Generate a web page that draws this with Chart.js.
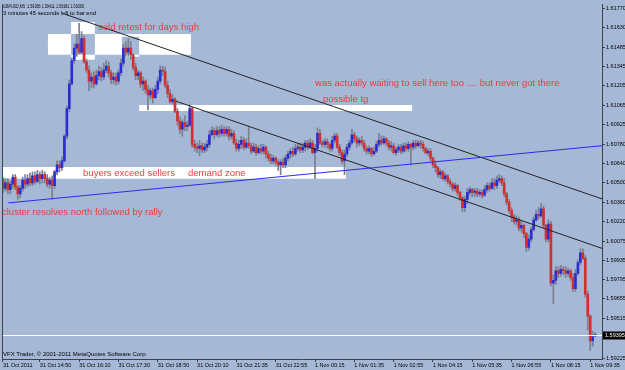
<!DOCTYPE html>
<html lang="en">
<head>
<meta charset="UTF-8">
<title>GBPUSD,M5</title>
<script src="https://cdn.jsdelivr.net/npm/chart.js"></script>
<style>
  html, body { margin: 0; padding: 0; background: #a5b9d6; }
  canvas { display: block; }
</style>
</head>
<body>
<canvas id="chart" width="625" height="370"></canvas>
<script>
// GBPUSD 5 minute bars, 31 Oct 13:35 -> 1 Nov 09:45
const symbol = 'GBPUSD,M5';

const opens = [
  1.6052,1.6046,1.6050,1.6045,1.6049,1.6054,1.6047,1.6042,1.6046,1.6052,
  1.6049,1.6053,1.6050,1.6055,1.6051,1.6056,1.6053,1.6056,1.6053,1.6049,
  1.6052,1.6048,1.6058,1.6063,1.6061,1.6066,1.6084,1.6104,1.6122,1.6139,
  1.6148,1.6151,1.6145,1.6155,1.6138,1.6132,1.6124,1.6127,1.6122,1.6128,
  1.6131,1.6127,1.6132,1.6135,1.6130,1.6125,1.6127,1.6124,1.6130,1.6137,
  1.6148,1.6145,1.6148,1.6143,1.6134,1.6128,1.6130,1.6122,1.6124,1.6118,
  1.6114,1.6117,1.6112,1.6118,1.6124,1.6132,1.6131,1.6121,1.6115,1.6109,
  1.6111,1.6102,1.6095,1.6089,1.6094,1.6091,1.6092,1.6104,1.6078,1.6076,
  1.6075,1.6077,1.6074,1.6076,1.6078,1.6085,1.6088,1.6085,1.6088,1.6086,
  1.6089,1.6086,1.6089,1.6084,1.6086,1.6079,1.6075,1.6078,1.6081,1.6076,
  1.6079,1.6077,1.6073,1.6076,1.6072,1.6075,1.6073,1.6076,1.6071,1.6068,
  1.6066,1.6068,1.6065,1.6063,1.6065,1.6063,1.6068,1.6071,1.6073,1.6071,
  1.6075,1.6076,1.6074,1.6076,1.6079,1.6076,1.6079,1.6072,1.6075,1.6086,
  1.6079,1.6078,1.6080,1.6078,1.6075,1.6081,1.6084,1.6076,1.6072,1.6066,
  1.6071,1.6076,1.6079,1.6085,1.6082,1.6079,1.6081,1.6079,1.6075,1.6073,
  1.6075,1.6071,1.6073,1.6078,1.6081,1.6079,1.6082,1.6079,1.6076,1.6077,
  1.6072,1.6074,1.6076,1.6073,1.6077,1.6075,1.6078,1.6076,1.6079,1.6077,
  1.6079,1.6078,1.6075,1.6072,1.6073,1.6068,1.6063,1.6061,1.6056,1.6058,
  1.6053,1.6055,1.6051,1.6049,1.6046,1.6048,1.6043,1.6039,1.6032,1.6038,
  1.6043,1.6045,1.6043,1.6044,1.6042,1.6043,1.6041,1.6045,1.6048,1.6046,
  1.6050,1.6048,1.6052,1.6053,1.6050,1.6042,1.6036,1.6030,1.6025,1.6022,
  1.6023,1.6017,1.6019,1.6013,1.6003,1.6009,1.6016,1.6023,1.6027,1.6026,
  1.6031,1.6019,1.6009,1.6020,1.5977,1.5979,1.5986,1.5984,1.5987,1.5986,
  1.5984,1.5986,1.5981,1.5973,1.5984,1.5992,1.5999,1.5995,1.5969,1.5953,
  1.5935,1.59386
];
const highs = [
  1.6054,1.6053,1.6053,1.6051,1.6056,1.6056,1.6048,1.6048,1.6054,1.6056,
  1.6056,1.6057,1.6058,1.6058,1.6059,1.6058,1.6059,1.6058,1.6056,1.6054,
  1.6055,1.6059,1.6066,1.6066,1.6069,1.6085,1.6106,1.6125,1.6141,1.6151,
  1.6158,1.6166,1.6160,1.6157,1.6140,1.6135,1.6130,1.6131,1.6132,1.6135,
  1.6134,1.6137,1.6139,1.6138,1.6132,1.6130,1.6130,1.6132,1.6140,1.6151,
  1.6153,1.6155,1.6153,1.6144,1.6137,1.6132,1.6131,1.6127,1.6125,1.6121,
  1.6119,1.6119,1.6121,1.6127,1.6135,1.6135,1.6134,1.6124,1.6118,1.6114,
  1.6112,1.6104,1.6098,1.6096,1.6099,1.6095,1.6107,1.6105,1.6081,1.6079,
  1.6081,1.6079,1.6079,1.6081,1.6088,1.6091,1.6090,1.6091,1.6091,1.6092,
  1.6091,1.6091,1.6091,1.6089,1.6088,1.6082,1.6081,1.6084,1.6083,1.6082,
  1.6091,1.6079,1.6079,1.6078,1.6077,1.6078,1.6078,1.6077,1.6073,1.6071,
  1.6070,1.6069,1.6067,1.6067,1.6068,1.6070,1.6073,1.6075,1.6076,1.6078,
  1.6079,1.6079,1.6079,1.6081,1.6081,1.6082,1.6081,1.6078,1.6090,1.6089,
  1.6081,1.6082,1.6082,1.6079,1.6084,1.6086,1.6086,1.6078,1.6074,1.6074,
  1.6078,1.6081,1.6089,1.6087,1.6084,1.6083,1.6084,1.6081,1.6077,1.6077,
  1.6076,1.6076,1.6080,1.6086,1.6084,1.6084,1.6083,1.6081,1.6080,1.6079,
  1.6076,1.6078,1.6078,1.6079,1.6079,1.6080,1.6079,1.6081,1.6081,1.6081,
  1.6081,1.6080,1.6076,1.6075,1.6075,1.6069,1.6066,1.6062,1.6060,1.6059,
  1.6057,1.6056,1.6053,1.6050,1.6050,1.6049,1.6044,1.6040,1.6040,1.6046,
  1.6047,1.6046,1.6046,1.6046,1.6045,1.6045,1.6048,1.6050,1.6050,1.6053,
  1.6053,1.6055,1.6056,1.6055,1.6053,1.6043,1.6038,1.6032,1.6027,1.6026,
  1.6025,1.6022,1.6020,1.6014,1.6012,1.6018,1.6025,1.6030,1.6032,1.6035,
  1.6033,1.6020,1.6023,1.6022,1.5983,1.5989,1.5989,1.5990,1.5989,1.5989,
  1.5988,1.5987,1.5984,1.5987,1.5994,1.6002,1.6002,1.5997,1.5971,1.5954,
  1.5942,1.59411
];
const lows = [
  1.6043,1.6044,1.6042,1.6042,1.6046,1.6045,1.6038,1.6039,1.6044,1.6046,
  1.6047,1.6048,1.6048,1.6049,1.6050,1.6049,1.6050,1.6050,1.6047,1.6046,
  1.6038,1.6046,1.6056,1.6058,1.6059,1.6065,1.6082,1.6102,1.6121,1.6137,
  1.6142,1.6144,1.6144,1.6137,1.6130,1.6117,1.6119,1.6119,1.6121,1.6125,
  1.6124,1.6125,1.6130,1.6127,1.6122,1.6122,1.6121,1.6122,1.6128,1.6135,
  1.6142,1.6142,1.6140,1.6132,1.6125,1.6125,1.6119,1.6117,1.6115,1.6103,
  1.6111,1.6108,1.6111,1.6115,1.6122,1.6128,1.6119,1.6112,1.6108,1.6107,
  1.6101,1.6092,1.6086,1.6084,1.6088,1.6088,1.6091,1.6076,1.6073,1.6072,
  1.6070,1.6072,1.6072,1.6073,1.6076,1.6084,1.6082,1.6084,1.6083,1.6084,
  1.6084,1.6084,1.6081,1.6082,1.6078,1.6073,1.6073,1.6075,1.6074,1.6075,
  1.6075,1.6071,1.6072,1.6070,1.6071,1.6071,1.6071,1.6068,1.6066,1.6064,
  1.6064,1.6063,1.6059,1.6056,1.6061,1.6061,1.6066,1.6068,1.6069,1.6070,
  1.6073,1.6072,1.6072,1.6073,1.6074,1.6075,1.6071,1.6053,1.6073,1.6078,
  1.6076,1.6076,1.6075,1.6073,1.6073,1.6079,1.6075,1.6070,1.6064,1.6056,
  1.6069,1.6074,1.6078,1.6080,1.6076,1.6077,1.6077,1.6073,1.6071,1.6071,
  1.6069,1.6070,1.6072,1.6076,1.6077,1.6078,1.6077,1.6074,1.6073,1.6071,
  1.6070,1.6072,1.6071,1.6072,1.6073,1.6073,1.6063,1.6074,1.6075,1.6076,
  1.6075,1.6073,1.6071,1.6070,1.6066,1.6061,1.6058,1.6054,1.6053,1.6052,
  1.6051,1.6049,1.6047,1.6044,1.6044,1.6041,1.6037,1.6029,1.6029,1.6035,
  1.6041,1.6040,1.6040,1.6040,1.6040,1.6039,1.6040,1.6043,1.6044,1.6045,
  1.6045,1.6046,1.6050,1.6048,1.6040,1.6034,1.6028,1.6022,1.6020,1.6019,
  1.6015,1.6014,1.6010,1.6000,1.6001,1.6007,1.6015,1.6022,1.6024,1.6025,
  1.6017,1.6007,1.6007,1.5975,1.5962,1.5976,1.5981,1.5982,1.5983,1.5981,
  1.5982,1.5979,1.5971,1.5971,1.5983,1.5990,1.5994,1.5967,1.5943,1.5928,
  1.5931,1.59381
];
const closes = [
  1.6046,1.6050,1.6045,1.6049,1.6054,1.6047,1.6042,1.6046,1.6052,1.6049,
  1.6053,1.6050,1.6055,1.6051,1.6056,1.6053,1.6056,1.6053,1.6049,1.6052,
  1.6048,1.6058,1.6063,1.6061,1.6066,1.6084,1.6104,1.6122,1.6139,1.6148,
  1.6151,1.6145,1.6155,1.6138,1.6132,1.6124,1.6127,1.6122,1.6128,1.6131,
  1.6127,1.6132,1.6135,1.6130,1.6125,1.6127,1.6124,1.6130,1.6137,1.6148,
  1.6145,1.6148,1.6143,1.6134,1.6128,1.6130,1.6122,1.6124,1.6118,1.6114,
  1.6117,1.6112,1.6118,1.6124,1.6132,1.6131,1.6121,1.6115,1.6109,1.6111,
  1.6102,1.6095,1.6089,1.6094,1.6091,1.6092,1.6104,1.6078,1.6076,1.6075,
  1.6077,1.6074,1.6076,1.6078,1.6085,1.6088,1.6085,1.6088,1.6086,1.6089,
  1.6086,1.6089,1.6084,1.6086,1.6079,1.6075,1.6078,1.6081,1.6076,1.6079,
  1.6077,1.6073,1.6076,1.6072,1.6075,1.6073,1.6076,1.6071,1.6068,1.6066,
  1.6068,1.6065,1.6063,1.6065,1.6063,1.6068,1.6071,1.6073,1.6071,1.6075,
  1.6076,1.6074,1.6076,1.6079,1.6076,1.6079,1.6072,1.6075,1.6086,1.6079,
  1.6078,1.6080,1.6078,1.6075,1.6081,1.6084,1.6076,1.6072,1.6066,1.6071,
  1.6076,1.6079,1.6085,1.6082,1.6079,1.6081,1.6079,1.6075,1.6073,1.6075,
  1.6071,1.6073,1.6078,1.6081,1.6079,1.6082,1.6079,1.6076,1.6077,1.6072,
  1.6074,1.6076,1.6073,1.6077,1.6075,1.6078,1.6076,1.6079,1.6077,1.6079,
  1.6078,1.6075,1.6072,1.6073,1.6068,1.6063,1.6061,1.6056,1.6058,1.6053,
  1.6055,1.6051,1.6049,1.6046,1.6048,1.6043,1.6039,1.6032,1.6038,1.6043,
  1.6045,1.6043,1.6044,1.6042,1.6043,1.6041,1.6045,1.6048,1.6046,1.6050,
  1.6048,1.6052,1.6053,1.6050,1.6042,1.6036,1.6030,1.6025,1.6022,1.6023,
  1.6017,1.6019,1.6013,1.6003,1.6009,1.6016,1.6023,1.6027,1.6026,1.6031,
  1.6019,1.6009,1.6020,1.5977,1.5979,1.5986,1.5984,1.5987,1.5986,1.5984,
  1.5986,1.5981,1.5973,1.5984,1.5992,1.5999,1.5995,1.5969,1.5953,1.5935,
  1.5938,1.59395
];

const bidPrice = 1.59395;

// time axis: bar index of each label
const timeTickBars = [0, 15, 31, 47, 63, 79, 95, 111, 127, 143, 159, 175, 191, 207, 223, 239];
const timeTickLabels = ['31 Oct 2011', '31 Oct 14:50', '31 Oct 16:10', '31 Oct 17:30', '31 Oct 18:50',
  '31 Oct 20:10', '31 Oct 21:35', '31 Oct 22:55', '1 Nov 00:15', '1 Nov 01:35', '1 Nov 02:55',
  '1 Nov 04:15', '1 Nov 05:35', '1 Nov 06:55', '1 Nov 08:15', '1 Nov 09:35'];
const priceTicks = [1.61770, 1.61630, 1.61485, 1.61345, 1.61205, 1.61065, 1.60925, 1.60780, 1.60640,
  1.60500, 1.60360, 1.60220, 1.60075, 1.59935, 1.59795, 1.59655, 1.59515, 1.59225];

// drawn objects, in bar index / price
const zones = [
  { from: 18.3, to: 76.5, top: 1.61583, bottom: 1.61432 },
  { from: 27.7, to: 37.4, top: 1.61670, bottom: 1.61396 },
  { from: 48.4, to: 55.4, top: 1.61562, bottom: 1.61418 },
  { from: 55.4, to: 166.5, top: 1.61066, bottom: 1.61022 },
  { from: -0.4, to: 139.6, top: 1.60616, bottom: 1.60530 }
];
const trendLines = [
  { from: [25.2, 1.61727], to: [243.8, 1.60383], color: '#222222' },
  { from: [70.4, 1.61094], to: [243.8, 1.60023], color: '#222222' },
  { from: [2.2, 1.60354], to: [243.8, 1.60770], color: '#2b2bf0' }
];
const notes = [
  { text: 'sold retest for days high', bar: 38.7, price: 1.61634 },
  { text: 'was actually waiting to sell here too .... but never got there', bar: 127.0, price: 1.61224 },
  { text: 'possible tg', bar: 130.2, price: 1.61109 },
  { text: 'buyers exceed sellers', bar: 32.6, price: 1.60570 },
  { text: 'demand zone', bar: 75.3, price: 1.60570 },
  { text: 'cluster resolves north followed by rally', bar: -0.4, price: 1.60282 }
];

const bullColor = '#2c2cd4';
const bearColor = '#d42e2e';
const wickColor = '#7c7f8e';
const noteColor = '#e83c3c';
const font = '"Liberation Sans", Arial, sans-serif';

const bodies = opens.map((o, i) => ({ x: i, y: [o, closes[i]] }));
const wicks = highs.map((h, i) => ({ x: i, y: [lows[i], h] }));
const bodyColors = opens.map((o, i) => closes[i] >= o ? bullColor : bearColor);

const overlay = {
    id: 'overlay',
    beforeDatasetsDraw(chart) {
        const { ctx, chartArea: a, scales: { x, y } } = chart;
        ctx.save();
        ctx.beginPath();
        ctx.rect(a.left, a.top, a.right - a.left, a.bottom - a.top);
        ctx.clip();
        // overlapping rectangles cancel out, like in the terminal
        ctx.beginPath();
        zones.forEach(z => {
            const x1 = x.getPixelForValue(z.from), x2 = x.getPixelForValue(z.to);
            const y1 = y.getPixelForValue(z.top), y2 = y.getPixelForValue(z.bottom);
            ctx.rect(x1, y1, x2 - x1, y2 - y1);
        });
        ctx.fillStyle = '#ffffff';
        ctx.fill('evenodd');
        ctx.restore();
    },
    afterDatasetsDraw(chart) {
        const { ctx, chartArea: a, scales: { x, y } } = chart;
        ctx.save();
        ctx.beginPath();
        ctx.rect(a.left, a.top, a.right - a.left, a.bottom - a.top);
        ctx.clip();

        // bid line
        const by = Math.round(y.getPixelForValue(bidPrice)) + 0.5;
        ctx.strokeStyle = '#ffffff';
        ctx.lineWidth = 1;
        ctx.beginPath();
        ctx.moveTo(a.left, by);
        ctx.lineTo(a.right, by);
        ctx.stroke();

        // trend lines
        trendLines.forEach(l => {
            ctx.strokeStyle = l.color;
            ctx.beginPath();
            ctx.moveTo(x.getPixelForValue(l.from[0]), y.getPixelForValue(l.from[1]));
            ctx.lineTo(x.getPixelForValue(l.to[0]), y.getPixelForValue(l.to[1]));
            ctx.stroke();
        });

        // notes
        ctx.fillStyle = noteColor;
        ctx.font = '9.5px ' + font;
        ctx.textAlign = 'left';
        ctx.textBaseline = 'middle';
        notes.forEach(n => {
            ctx.fillText(n.text, x.getPixelForValue(n.bar), y.getPixelForValue(n.price));
        });

        // header and footer
        const last = opens.length - 1;
        ctx.fillStyle = '#000000';
        ctx.font = '6px ' + font;
        ctx.textBaseline = 'middle';
        const head = symbol + '  ' + [opens[last], highs[last], lows[last], closes[last]].map(v => v.toFixed(5)).join(' ');
        ctx.fillText(head, a.left + 1, 6, 81);
        ctx.fillText('3 minutes 45 seconds left to bar end', a.left + 1, 13, 93);
        ctx.fillText('VFX Trader, \u00a9 2001-2011 MetaQuotes Software Corp.', a.left + 1, 354, 150);
        ctx.restore();

        // left frame
        ctx.save();
        ctx.strokeStyle = '#404048';
        ctx.beginPath();
        ctx.moveTo(a.left + 0.5, a.top);
        ctx.lineTo(a.left + 0.5, a.bottom);
        ctx.stroke();

        // bid price box on the axis
        ctx.fillStyle = '#000000';
        ctx.fillRect(a.right + 1, by - 4, 24, 8);
        ctx.fillStyle = '#ffffff';
        ctx.font = '5.5px ' + font;
        ctx.textBaseline = 'middle';
        ctx.textAlign = 'left';
        ctx.fillText(bidPrice.toFixed(5), a.right + 3, by);
        ctx.restore();
    }
};

new Chart(document.getElementById('chart'), {
    type: 'bar',
    data: {
        datasets: [{
            data: bodies,
            backgroundColor: bodyColors,
            barThickness: 2,
            minBarLength: 1,
            grouped: false,
            order: 0
        }, {
            data: wicks,
            backgroundColor: wickColor,
            barThickness: 1,
            grouped: false,
            order: 1
        }]
    },
    options: {
        responsive: false,
        animation: false,
        devicePixelRatio: 1,
        layout: { padding: { left: 2, top: 0, right: 0, bottom: 0 } },
        plugins: { legend: { display: false }, tooltip: { enabled: false } },
        scales: {
            x: {
                type: 'linear',
                min: -0.4,
                max: 243.8,
                offset: false,
                afterBuildTicks: s => { s.ticks = timeTickBars.map(v => ({ value: v })); },
                afterFit: s => { s.height = 11; },
                grid: { offset: false, drawOnChartArea: false, tickLength: 3, color: '#404048' },
                border: { display: true, color: '#404048' },
                ticks: {
                    autoSkip: false,
                    maxRotation: 0,
                    align: 'start',
                    padding: 0,
                    color: '#000000',
                    font: { family: font, size: 5.5 },
                    callback: (v, i) => timeTickLabels[i]
                }
            },
            y: {
                position: 'right',
                min: 1.59218,
                max: 1.61799,
                afterBuildTicks: s => { s.ticks = priceTicks.map(v => ({ value: v })); },
                afterFit: s => { s.width = 23; },
                grid: { drawOnChartArea: false, tickLength: 3, color: '#404048' },
                border: { display: true, color: '#404048' },
                ticks: {
                    padding: 1,
                    color: '#000000',
                    font: { family: font, size: 5.5 },
                    callback: v => v.toFixed(5)
                }
            }
        }
    },
    plugins: [overlay]
});
</script>
</body>
</html>
